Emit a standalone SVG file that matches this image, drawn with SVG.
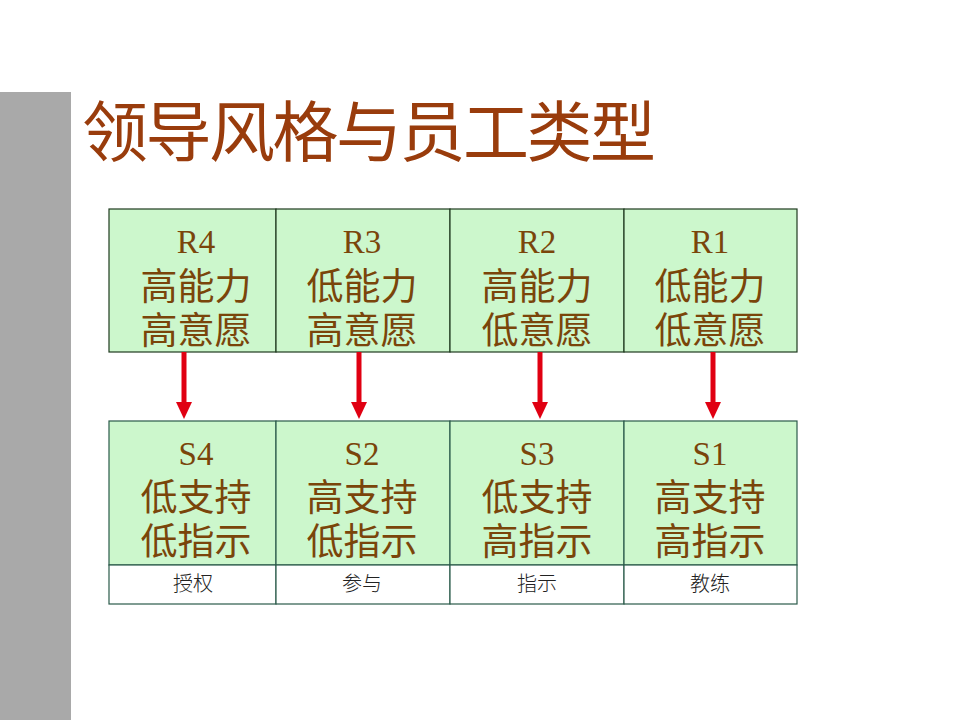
<svg xmlns="http://www.w3.org/2000/svg" width="960" height="720" viewBox="0 0 960 720">
<defs>
<style>
.cell{fill:#ccf7cc;stroke:#1e3a1e;stroke-width:1.2}
.cell2{fill:#ccf7cc;stroke:#2a5a4a;stroke-width:1.2}
.lab{fill:#ffffff;stroke:#2a5a4a;stroke-width:1.2}
.code{font-family:"Liberation Serif","Noto Serif CJK SC",serif;font-size:33px;fill:#7a450a;text-anchor:middle}
.cjk{font-family:"Noto Sans CJK SC",sans-serif;font-size:37px;fill:#7a450a;text-anchor:middle}
.small{font-family:"Noto Sans CJK SC",sans-serif;font-size:20px;font-weight:300;fill:#222;text-anchor:middle}
.arr{stroke:#e00012;stroke-width:5;fill:none}
.head{fill:#e00012}
</style>
</defs>
<rect x="0" y="0" width="960" height="720" fill="#ffffff"/>
<rect x="0" y="92" width="71" height="628" fill="#a9a9a9"/>
<text x="82" y="156" font-family="Noto Sans CJK SC, sans-serif" font-size="66" textLength="574" lengthAdjust="spacing" fill="#993c0c">领导风格与员工类型</text>

<g id="R4"><rect class="cell" x="109" y="209" width="167" height="143"/><text class="code" x="196" y="253">R4</text><text class="cjk" x="196" y="300">高能力</text><text class="cjk" x="196" y="344">高意愿</text></g>
<g id="R3"><rect class="cell" x="276" y="209" width="174" height="143"/><text class="code" x="362" y="253">R3</text><text class="cjk" x="362" y="300">低能力</text><text class="cjk" x="362" y="344">高意愿</text></g>
<g id="R2"><rect class="cell" x="450" y="209" width="174" height="143"/><text class="code" x="537" y="253">R2</text><text class="cjk" x="537" y="300">高能力</text><text class="cjk" x="537" y="344">低意愿</text></g>
<g id="R1"><rect class="cell" x="624" y="209" width="173" height="143"/><text class="code" x="710" y="253">R1</text><text class="cjk" x="710" y="300">低能力</text><text class="cjk" x="710" y="344">低意愿</text></g>

<g id="S4"><rect class="cell2" x="109" y="421" width="167" height="144"/><text class="code" x="196" y="465">S4</text><text class="cjk" x="196" y="511">低支持</text><text class="cjk" x="196" y="555">低指示</text><rect class="lab" x="109" y="565" width="167" height="39"/><text class="small" x="193" y="591">授权</text></g>
<g id="S2"><rect class="cell2" x="276" y="421" width="174" height="144"/><text class="code" x="362" y="465">S2</text><text class="cjk" x="362" y="511">高支持</text><text class="cjk" x="362" y="555">低指示</text><rect class="lab" x="276" y="565" width="174" height="39"/><text class="small" x="362" y="591">参与</text></g>
<g id="S3"><rect class="cell2" x="450" y="421" width="174" height="144"/><text class="code" x="537" y="465">S3</text><text class="cjk" x="537" y="511">低支持</text><text class="cjk" x="537" y="555">高指示</text><rect class="lab" x="450" y="565" width="174" height="39"/><text class="small" x="537" y="591">指示</text></g>
<g id="S1"><rect class="cell2" x="624" y="421" width="173" height="144"/><text class="code" x="710" y="465">S1</text><text class="cjk" x="710" y="511">高支持</text><text class="cjk" x="710" y="555">高指示</text><rect class="lab" x="624" y="565" width="173" height="39"/><text class="small" x="710" y="591">教练</text></g>

<g id="connectors">
<line class="arr" x1="184" y1="352" x2="184" y2="404"/><path class="head" d="M176,402 L192,402 L184,419 Z"/>
<line class="arr" x1="359" y1="352" x2="359" y2="404"/><path class="head" d="M351,402 L367,402 L359,419 Z"/>
<line class="arr" x1="540" y1="352" x2="540" y2="404"/><path class="head" d="M532,402 L548,402 L540,419 Z"/>
<line class="arr" x1="713" y1="352" x2="713" y2="404"/><path class="head" d="M705,402 L721,402 L713,419 Z"/>
</g>
</svg>
